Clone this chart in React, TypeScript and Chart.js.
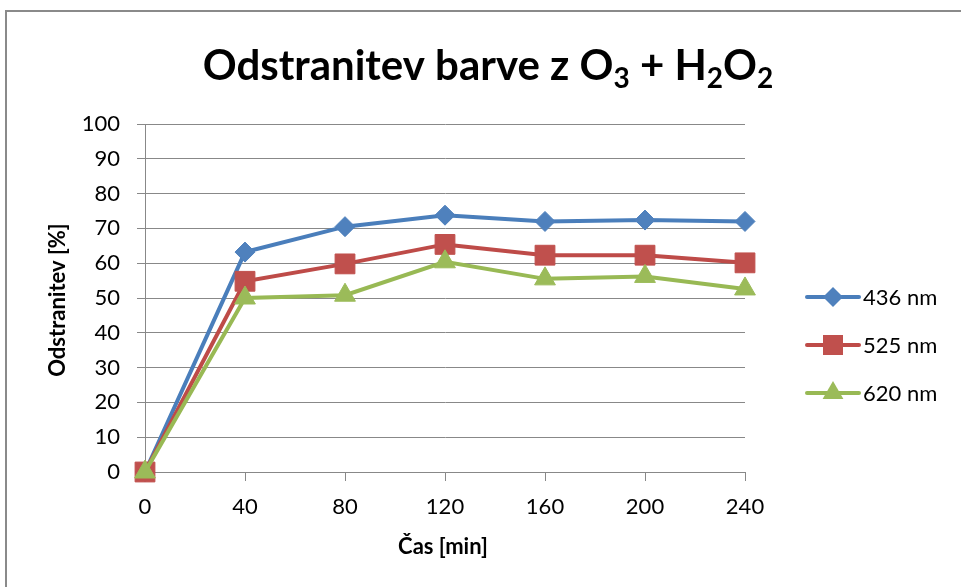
import React, { useEffect, useRef } from "react";
import { Chart, registerables } from "chart.js";

Chart.register(...registerables);

// ---- data ----
const categories = ["0", "40", "80", "120", "160", "200", "240"];
const series436 = [0, 63.2, 70.5, 73.8, 72.0, 72.4, 72.0];
const series525 = [0, 54.8, 59.8, 65.4, 62.3, 62.3, 60.1];
const series620 = [0, 50.0, 50.8, 60.4, 55.5, 56.2, 52.6];
const seriesNames = ["436 nm", "525 nm", "620 nm"];
const yMin = 0;
const yMax = 100;
const yStep = 10;
const titleParts = [
  { text: "Odstranitev barve z O", sub: false },
  { text: "3", sub: true },
  { text: " + H", sub: false },
  { text: "2", sub: true },
  { text: "O", sub: false },
  { text: "2", sub: true },
];
const yTitle = "Odstranitev [%]";
const xTitle = "Čas [min]";

// ---- styles ----
const FONT = "Lato, 'Open Sans', sans-serif";
const lineColors = ["#4A7EBB", "#BE4B48", "#98B954"];
const markColors = ["#4F81BD", "#C0504D", "#9BBB59"];
const gridColor = "#888888";

function drawMarker(ctx: CanvasRenderingContext2D, kind: number, x: number, y: number) {
  ctx.save();
  ctx.fillStyle = markColors[kind];
  ctx.beginPath();
  if (kind === 0) {
    const r = 10;
    ctx.moveTo(x, y - r);
    ctx.lineTo(x + r, y);
    ctx.lineTo(x, y + r);
    ctx.lineTo(x - r, y);
  } else if (kind === 1) {
    const h = 10;
    ctx.rect(x - h, y - h, 2 * h, 2 * h);
  } else {
    const r = 12;
    ctx.moveTo(x, y - r);
    ctx.lineTo(x + r * 0.866, y + r * 0.5);
    ctx.lineTo(x - r * 0.866, y + r * 0.5);
  }
  ctx.closePath();
  ctx.fill();
  ctx.restore();
}

const decorPlugin = {
  id: "decor",
  beforeDraw(chart: any) {
    const ctx = chart.ctx as CanvasRenderingContext2D;
    ctx.save();
    ctx.fillStyle = "#ffffff";
    ctx.fillRect(0, 0, chart.width, chart.height);
    ctx.strokeStyle = "#8a8a8a";
    ctx.lineWidth = 2;
    ctx.strokeRect(6, 11, chart.width + 50, chart.height + 50);
    ctx.restore();
  },
  afterDraw(chart: any) {
    const ctx = chart.ctx as CanvasRenderingContext2D;
    ctx.save();
    // title with subscripts
    const mainSize = 42;
    const subSize = 28;
    const mainFont = `bold ${mainSize}px ${FONT}`;
    const subFont = `bold ${subSize}px ${FONT}`;
    let total = 0;
    for (const p of titleParts) {
      ctx.font = p.sub ? subFont : mainFont;
      total += ctx.measureText(p.text).width;
    }
    let x = 488 - total / 2;
    const baseY = 80;
    ctx.fillStyle = "#000";
    ctx.textBaseline = "alphabetic";
    ctx.textAlign = "left";
    for (const p of titleParts) {
      ctx.font = p.sub ? subFont : mainFont;
      ctx.fillText(p.text, x, p.sub ? baseY + 8 : baseY);
      x += ctx.measureText(p.text).width;
    }
    // axis titles
    ctx.font = `bold 22px ${FONT}`;
    ctx.textAlign = "center";
    ctx.textBaseline = "middle";
    ctx.fillText(xTitle, 443, 547);
    ctx.save();
    ctx.translate(58, 300);
    ctx.rotate(-Math.PI / 2);
    ctx.fillText(yTitle, 0, 0);
    ctx.restore();
    // legend
    const rows = [297, 345, 393];
    ctx.font = `22px ${FONT}`;
    ctx.textAlign = "left";
    ctx.textBaseline = "middle";
    seriesNames.forEach((name, i) => {
      const y = rows[i];
      ctx.strokeStyle = lineColors[i];
      ctx.lineWidth = 4;
      ctx.lineCap = "round";
      ctx.beginPath();
      ctx.moveTo(807, y);
      ctx.lineTo(859, y);
      ctx.stroke();
      drawMarker(ctx, i, 833, y);
      ctx.fillStyle = "#000";
      ctx.fillText(name, 863, y + 1);
    });
    ctx.restore();
  },
};

export default function App() {
  const ref = useRef<HTMLCanvasElement | null>(null);
  useEffect(() => {
    if (!ref.current) return;
    const allSeries = [series436, series525, series620];
    const styles = ["rectRot", "rect", "triangle"];
    const radii = [10, 14, 12];
    const chart = new Chart(ref.current, {
      type: "line",
      data: {
        labels: categories,
        datasets: allSeries.map((d, i) => ({
          label: seriesNames[i],
          data: d,
          borderColor: lineColors[i],
          backgroundColor: markColors[i],
          borderWidth: 4,
          pointStyle: styles[i] as any,
          pointRadius: radii[i],
          pointBackgroundColor: markColors[i],
          pointBorderColor: markColors[i],
          pointBorderWidth: 1,
          tension: 0,
          clip: false as any,
          order: 3 - i,
        })),
      },
      options: {
        responsive: false,
        animation: false,
        events: [],
        layout: { padding: { left: 0, top: 124, right: 216, bottom: 0 } },
        plugins: {
          legend: { display: false },
          title: { display: false },
          tooltip: { enabled: false },
        },
        scales: {
          x: {
            type: "category",
            offset: false,
            grid: {
              display: true,
              drawOnChartArea: false,
              drawTicks: true,
              tickLength: 9,
              color: gridColor,
              offset: false,
            },
            border: { display: true, color: gridColor, width: 1 },
            ticks: {
              color: "#000",
              font: { family: FONT, size: 22 },
              padding: 13,
              maxRotation: 0,
              autoSkip: false,
            },
            afterFit(scale: any) {
              scale.height = 587 - 472;
            },
          },
          y: {
            type: "linear",
            min: yMin,
            max: yMax,
            grid: {
              display: true,
              drawOnChartArea: true,
              drawTicks: true,
              tickLength: 8,
              color: gridColor,
            },
            border: { display: true, color: gridColor, width: 1 },
            ticks: {
              stepSize: yStep,
              color: "#000",
              font: { family: FONT, size: 22 },
              padding: 17,
            },
            afterFit(scale: any) {
              scale.width = 145;
            },
          },
        },
      },
      plugins: [decorPlugin],
    });
    return () => chart.destroy();
  }, []);
  return (
    <div style={{ position: "absolute", left: 0, top: 0, width: 961, height: 587, background: "#fff" }}>
      <canvas ref={ref} width={961} height={587} style={{ display: "block" }} />
    </div>
  );
}
